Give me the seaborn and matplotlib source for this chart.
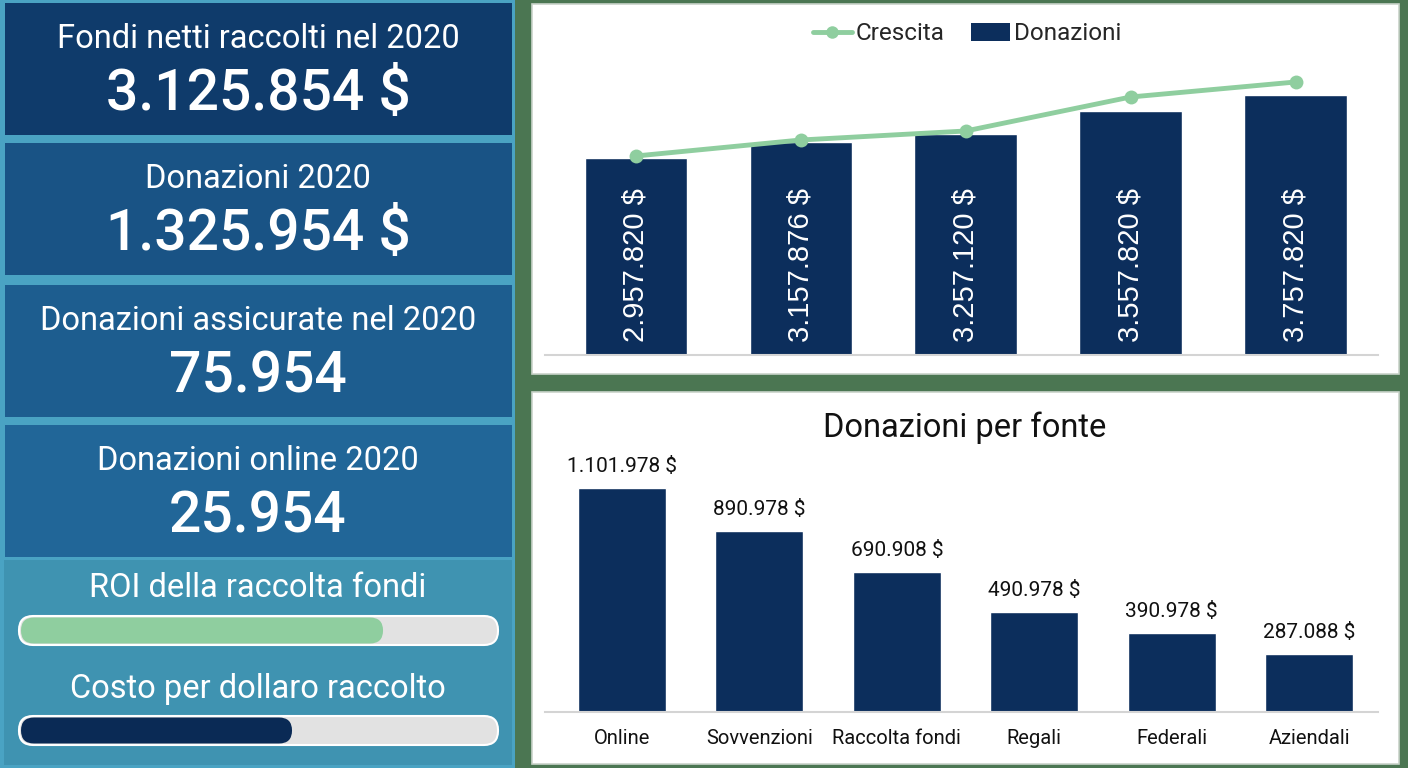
import matplotlib
matplotlib.use("Agg")
import matplotlib.pyplot as plt
import seaborn as sns
import pandas as pd
import numpy as np
from matplotlib.patches import Rectangle, FancyBboxPatch, Patch
from matplotlib.lines import Line2D

# ---------------- data ----------------
kpi_titles = ["Fondi netti raccolti nel 2020", "Donazioni 2020",
              "Donazioni assicurate nel 2020", "Donazioni online 2020"]
kpi_values = ["3.125.854 $", "1.325.954 $", "75.954", "25.954"]
progress_labels = ["ROI della raccolta fondi", "Costo per dollaro raccolto"]
progress_values = [0.76, 0.57]

years = ["2016", "2017", "2018", "2019", "2020"]
donazioni = [2957820, 3157876, 3257120, 3557820, 3757820]
crescita = [4.0, 5.6, 6.5, 9.9, 11.4]

fonti = ["Online", "Sovvenzioni", "Raccolta fondi", "Regali", "Federali", "Aziendali"]
fonti_valori = [1101978, 890978, 690908, 490978, 390978, 287088]

# ---------------- style ----------------
sns.set_theme(style="white")
plt.rcParams['font.family'] = ['Roboto', 'DejaVu Sans']

NAVY = "#0c2e5c"
GREEN = "#8fce9f"
BG = "#4b7652"

W, H = 1408, 768
fig = plt.figure(figsize=(W / 100, H / 100), dpi=100, facecolor=BG)


def box(x0, y0, x1, y1):
    return [x0 / W, 1 - y1 / H, (x1 - x0) / W, (y1 - y0) / H]


def fmt(v):
    return f"{v:,}".replace(",", ".")


# ---------------- white panels ----------------
for (x0, y0, x1, y1) in [(532, 4, 1399, 374), (532, 392, 1399, 764)]:
    r = box(x0, y0, x1, y1)
    fig.patches.append(Rectangle((r[0], r[1]), r[2], r[3], transform=fig.transFigure,
                                 facecolor="white", edgecolor="#c9d3c9", lw=1.2, zorder=-1))

# ---------------- left KPI panel ----------------
ax0 = fig.add_axes(box(0, 0, 515, 768))
ax0.set_xlim(0, 515)
ax0.set_ylim(768, 0)
ax0.axis("off")
ax0.add_patch(Rectangle((0, 0), 515, 768, facecolor="#4aa3c3", edgecolor="none"))
ax0.add_patch(Rectangle((4, 560), 508, 205, facecolor="#3f93b1", edgecolor="none"))

tile_rows = [(3, 135), (143, 275), (285, 417), (425, 557)]
tile_colors = ["#0f3b6b", "#195385", "#1d5d8f", "#216698"]
for (y0, y1), col, title, val in zip(tile_rows, tile_colors, kpi_titles, kpi_values):
    ax0.add_patch(Rectangle((5, y0), 507, y1 - y0, facecolor=col, edgecolor="none"))
    ax0.text(258, y0 + 36, title, ha="center", va="center", color="white", fontsize=23.5)
    ax0.text(258, y0 + 92, val, ha="center", va="center", color="white",
             fontsize=41, fontweight="medium")

bar_rows = [(588, 616), (689, 716)]
fill_colors = [GREEN, "#0a2a55"]
for (ty, by), lab, frac, fc in zip(bar_rows, progress_labels, progress_values, fill_colors):
    ax0.text(258, ty, lab, ha="center", va="center", color="white", fontsize=23.5)
    ax0.add_patch(FancyBboxPatch((19, by), 479, 29,
                                 boxstyle="round,pad=0,rounding_size=14",
                                 facecolor="#e2e2e2", edgecolor="white", lw=1.5))
    ax0.add_patch(FancyBboxPatch((21, by + 1.5), 479 * frac - 2, 26,
                                 boxstyle="round,pad=0,rounding_size=13",
                                 facecolor=fc, edgecolor="none"))

# ---------------- top chart: Donazioni + Crescita ----------------
ax1 = fig.add_axes(box(545, 60, 1378, 355))
ax1.patch.set_alpha(0)
df1 = pd.DataFrame({"anno": years, "donazioni": donazioni})
sns.barplot(data=df1, x="anno", y="donazioni", color=NAVY, saturation=1,
            width=0.62, ax=ax1)
ybot = 457000
ax1.set_ylim(ybot, 4203000)
ax1.set_xlim(-0.55, 4.5)
for s in ["top", "left", "right"]:
    ax1.spines[s].set_visible(False)
ax1.spines["bottom"].set_color("#d4d4d4")
ax1.spines["bottom"].set_linewidth(1.5)
ax1.set_xticks([])
ax1.set_yticks([])
ax1.set_xlabel("")
ax1.set_ylabel("")
for i, v in enumerate(donazioni):
    ax1.annotate(f"{fmt(v)} $", xy=(i, ybot), xytext=(0, 13), textcoords="offset pixels",
                 rotation=90, ha="center", va="bottom", color="white", fontsize=21,
                 fontfamily="Liberation Sans")

ax1b = ax1.twinx()
sns.lineplot(x=np.arange(len(crescita)), y=crescita, ax=ax1b, color=GREEN, lw=3.5,
             marker="o", markersize=10, markeredgewidth=0)
ax1b.set_ylim(-15.9, 13.6)
ax1b.set_yticks([])
ax1b.set_ylabel("")
for s in ["top", "left", "right", "bottom"]:
    ax1b.spines[s].set_visible(False)

handles = [Line2D([], [], color=GREEN, lw=3.5, marker="o", markersize=9, markeredgewidth=0),
           Patch(facecolor=NAVY, edgecolor="none")]
fig.legend(handles, ["Crescita", "Donazioni"], loc="center",
           bbox_to_anchor=(967 / W, 1 - 34 / H), ncol=2, frameon=False, fontsize=17.5,
           handlelength=1.6, handletextpad=0.15, columnspacing=1.1)

# ---------------- bottom chart: Donazioni per fonte ----------------
ax2 = fig.add_axes(box(545, 460, 1378, 712))
ax2.patch.set_alpha(0)
df2 = pd.DataFrame({"fonte": fonti, "valore": fonti_valori})
sns.barplot(data=df2, x="fonte", y="valore", color=NAVY, saturation=1, width=0.64, ax=ax2)
ax2.set_ylim(0, 1242000)
ax2.set_xlim(-0.56, 5.5)
for s in ["top", "left", "right"]:
    ax2.spines[s].set_visible(False)
ax2.spines["bottom"].set_color("#d4d4d4")
ax2.spines["bottom"].set_linewidth(1.5)
ax2.set_yticks([])
ax2.set_xlabel("")
ax2.set_ylabel("")
ax2.tick_params(axis="x", length=0, pad=12, labelsize=14.5, labelcolor="#111111")
for i, v in enumerate(fonti_valori):
    ax2.annotate(f"{fmt(v)} $", xy=(i, v), xytext=(0, 12), textcoords="offset pixels",
                 ha="center", va="bottom", color="#111111", fontsize=15)
fig.text(965 / W, 1 - 428 / H, "Donazioni per fonte", ha="center", va="center",
         fontsize=23.5, color="#111111")

fig.savefig("out.png", dpi=100, facecolor=BG)
